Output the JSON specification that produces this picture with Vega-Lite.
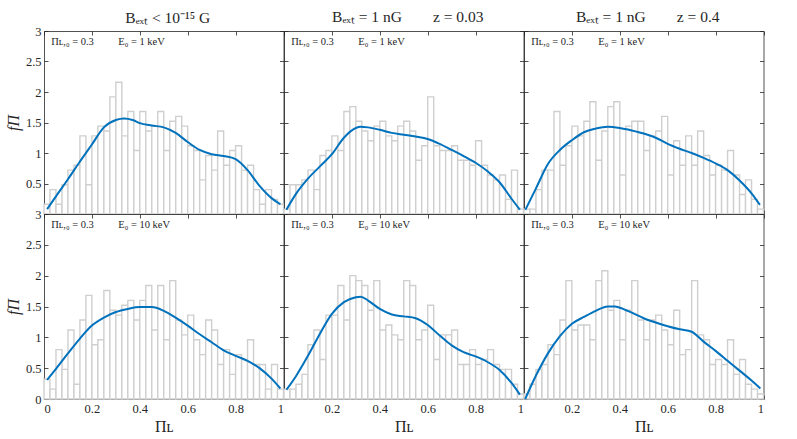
{
  "$schema": "https://vega.github.io/schema/vega-lite/v6.json",
  "background": "white",
  "padding": {"left": 5, "top": 10, "right": 5, "bottom": 5},
  "config": {
    "view": {"stroke": null},
    "axis": {
      "grid": false,
      "domainColor": "#262626",
      "domainWidth": 0.8,
      "tickColor": "#262626",
      "tickWidth": 0.8,
      "tickSize": -4,
      "labelColor": "#262626",
      "labelFont": "Liberation Serif",
      "labelFontSize": 12.5,
      "labelPadding": 7,
      "titleFont": "Liberation Serif",
      "titleFontSize": 16,
      "titleFontWeight": "normal",
      "titleColor": "#262626"
    },
    "title": {"font": "Liberation Serif", "fontSize": 15.5, "fontWeight": "normal", "color": "#262626", "offset": 5, "frame": "group", "dx": 4}
  },
  "datasets": {
    "bars": [
      {"p":"a","x0":0,"x1":0.025,"f":0.16},{"p":"a","x0":0.025,"x1":0.05,"f":0.4},{"p":"a","x0":0.05,"x1":0.075,"f":0.16},{"p":"a","x0":0.075,"x1":0.1,"f":0.48},{"p":"a","x0":0.1,"x1":0.125,"f":0.72},{"p":"a","x0":0.125,"x1":0.15,"f":0.8},{"p":"a","x0":0.15,"x1":0.175,"f":1.28},{"p":"a","x0":0.175,"x1":0.2,"f":0.48},{"p":"a","x0":0.2,"x1":0.225,"f":1.28},{"p":"a","x0":0.225,"x1":0.25,"f":1.44},
      {"p":"a","x0":0.25,"x1":0.275,"f":1.36},{"p":"a","x0":0.275,"x1":0.3,"f":1.92},{"p":"a","x0":0.3,"x1":0.325,"f":2.16},{"p":"a","x0":0.325,"x1":0.35,"f":1.28},{"p":"a","x0":0.35,"x1":0.375,"f":1.68},{"p":"a","x0":0.375,"x1":0.4,"f":1.04},{"p":"a","x0":0.4,"x1":0.425,"f":1.68},{"p":"a","x0":0.425,"x1":0.45,"f":1.36},{"p":"a","x0":0.45,"x1":0.475,"f":1.44},{"p":"a","x0":0.475,"x1":0.5,"f":1.68},
      {"p":"a","x0":0.5,"x1":0.525,"f":1.04},{"p":"a","x0":0.525,"x1":0.55,"f":1.52},{"p":"a","x0":0.55,"x1":0.575,"f":1.6},{"p":"a","x0":0.575,"x1":0.6,"f":1.44},{"p":"a","x0":0.6,"x1":0.625,"f":1.12},{"p":"a","x0":0.625,"x1":0.65,"f":1.04},{"p":"a","x0":0.65,"x1":0.675,"f":0.56},{"p":"a","x0":0.675,"x1":0.7,"f":0.96},{"p":"a","x0":0.7,"x1":0.725,"f":0.72},{"p":"a","x0":0.725,"x1":0.75,"f":1.36},
      {"p":"a","x0":0.75,"x1":0.775,"f":0.8},{"p":"a","x0":0.775,"x1":0.8,"f":1.04},{"p":"a","x0":0.8,"x1":0.825,"f":1.12},{"p":"a","x0":0.825,"x1":0.85,"f":0.72},{"p":"a","x0":0.85,"x1":0.875,"f":0.8},{"p":"a","x0":0.875,"x1":0.9,"f":0.4},{"p":"a","x0":0.9,"x1":0.925,"f":0.16},{"p":"a","x0":0.925,"x1":0.95,"f":0.4},{"p":"a","x0":0.95,"x1":0.975,"f":0.24},{"p":"a","x0":0.975,"x1":1,"f":0.16},

      {"p":"b","x0":0,"x1":0.025,"f":0.08},{"p":"b","x0":0.025,"x1":0.05,"f":0.48},{"p":"b","x0":0.05,"x1":0.075,"f":0.48},{"p":"b","x0":0.075,"x1":0.1,"f":0.56},{"p":"b","x0":0.1,"x1":0.125,"f":0.72},{"p":"b","x0":0.125,"x1":0.15,"f":0.4},{"p":"b","x0":0.15,"x1":0.175,"f":0.96},{"p":"b","x0":0.175,"x1":0.2,"f":1.04},{"p":"b","x0":0.2,"x1":0.225,"f":1.28},{"p":"b","x0":0.225,"x1":0.25,"f":1.04},
      {"p":"b","x0":0.25,"x1":0.275,"f":1.68},{"p":"b","x0":0.275,"x1":0.3,"f":1.76},{"p":"b","x0":0.3,"x1":0.325,"f":1.52},{"p":"b","x0":0.325,"x1":0.35,"f":1.36},{"p":"b","x0":0.35,"x1":0.375,"f":1.2},{"p":"b","x0":0.375,"x1":0.4,"f":1.44},{"p":"b","x0":0.4,"x1":0.425,"f":1.52},{"p":"b","x0":0.425,"x1":0.45,"f":1.28},{"p":"b","x0":0.45,"x1":0.475,"f":1.2},{"p":"b","x0":0.475,"x1":0.5,"f":1.44},
      {"p":"b","x0":0.5,"x1":0.525,"f":1.52},{"p":"b","x0":0.525,"x1":0.55,"f":1.36},{"p":"b","x0":0.55,"x1":0.575,"f":0.88},{"p":"b","x0":0.575,"x1":0.6,"f":1.12},{"p":"b","x0":0.6,"x1":0.625,"f":1.92},{"p":"b","x0":0.625,"x1":0.65,"f":1.12},{"p":"b","x0":0.65,"x1":0.675,"f":1.04},{"p":"b","x0":0.675,"x1":0.7,"f":1.04},{"p":"b","x0":0.7,"x1":0.725,"f":1.12},{"p":"b","x0":0.725,"x1":0.75,"f":0.88},
      {"p":"b","x0":0.75,"x1":0.775,"f":0.88},{"p":"b","x0":0.775,"x1":0.8,"f":0.8},{"p":"b","x0":0.8,"x1":0.825,"f":1.2},{"p":"b","x0":0.825,"x1":0.85,"f":0.8},{"p":"b","x0":0.85,"x1":0.875,"f":0.64},{"p":"b","x0":0.875,"x1":0.9,"f":0.56},{"p":"b","x0":0.9,"x1":0.925,"f":0.64},{"p":"b","x0":0.925,"x1":0.95,"f":0.24},{"p":"b","x0":0.95,"x1":0.975,"f":0.72},{"p":"b","x0":0.975,"x1":1,"f":0.08},

      {"p":"c","x0":0,"x1":0.025,"f":0.08},{"p":"c","x0":0.025,"x1":0.05,"f":0.08},{"p":"c","x0":0.05,"x1":0.075,"f":0.4},{"p":"c","x0":0.075,"x1":0.1,"f":0.72},{"p":"c","x0":0.1,"x1":0.125,"f":0.72},{"p":"c","x0":0.125,"x1":0.15,"f":1.68},{"p":"c","x0":0.15,"x1":0.175,"f":0.8},{"p":"c","x0":0.175,"x1":0.2,"f":1.12},{"p":"c","x0":0.2,"x1":0.225,"f":1.44},{"p":"c","x0":0.225,"x1":0.25,"f":1.28},
      {"p":"c","x0":0.25,"x1":0.275,"f":1.52},{"p":"c","x0":0.275,"x1":0.3,"f":1.84},{"p":"c","x0":0.3,"x1":0.325,"f":0.88},{"p":"c","x0":0.325,"x1":0.35,"f":1.36},{"p":"c","x0":0.35,"x1":0.375,"f":1.76},{"p":"c","x0":0.375,"x1":0.4,"f":1.84},{"p":"c","x0":0.4,"x1":0.425,"f":0.64},{"p":"c","x0":0.425,"x1":0.45,"f":1.44},{"p":"c","x0":0.45,"x1":0.475,"f":1.52},{"p":"c","x0":0.475,"x1":0.5,"f":1.52},
      {"p":"c","x0":0.5,"x1":0.525,"f":1.04},{"p":"c","x0":0.525,"x1":0.55,"f":1.28},{"p":"c","x0":0.55,"x1":0.575,"f":1.36},{"p":"c","x0":0.575,"x1":0.6,"f":1.6},{"p":"c","x0":0.6,"x1":0.625,"f":0.64},{"p":"c","x0":0.625,"x1":0.65,"f":1.2},{"p":"c","x0":0.65,"x1":0.675,"f":0.8},{"p":"c","x0":0.675,"x1":0.7,"f":1.28},{"p":"c","x0":0.7,"x1":0.725,"f":0.8},{"p":"c","x0":0.725,"x1":0.75,"f":1.36},
      {"p":"c","x0":0.75,"x1":0.775,"f":0.96},{"p":"c","x0":0.775,"x1":0.8,"f":0.64},{"p":"c","x0":0.8,"x1":0.825,"f":0.8},{"p":"c","x0":0.825,"x1":0.85,"f":0.72},{"p":"c","x0":0.85,"x1":0.875,"f":1.04},{"p":"c","x0":0.875,"x1":0.9,"f":0.64},{"p":"c","x0":0.9,"x1":0.925,"f":0.32},{"p":"c","x0":0.925,"x1":0.95,"f":0.56},{"p":"c","x0":0.95,"x1":0.975,"f":0.24},{"p":"c","x0":0.975,"x1":1,"f":0.08},

      {"p":"d","x0":0,"x1":0.025,"f":0.32},{"p":"d","x0":0.025,"x1":0.05,"f":0.16},{"p":"d","x0":0.05,"x1":0.075,"f":0.8},{"p":"d","x0":0.075,"x1":0.1,"f":0.48},{"p":"d","x0":0.1,"x1":0.125,"f":1.12},{"p":"d","x0":0.125,"x1":0.15,"f":0.24},{"p":"d","x0":0.15,"x1":0.175,"f":1.28},{"p":"d","x0":0.175,"x1":0.2,"f":1.68},{"p":"d","x0":0.2,"x1":0.225,"f":0.88},{"p":"d","x0":0.225,"x1":0.25,"f":0.96},
      {"p":"d","x0":0.25,"x1":0.275,"f":1.76},{"p":"d","x0":0.275,"x1":0.3,"f":1.44},{"p":"d","x0":0.3,"x1":0.325,"f":1.36},{"p":"d","x0":0.325,"x1":0.35,"f":1.52},{"p":"d","x0":0.35,"x1":0.375,"f":1.6},{"p":"d","x0":0.375,"x1":0.4,"f":1.28},{"p":"d","x0":0.4,"x1":0.425,"f":1.6},{"p":"d","x0":0.425,"x1":0.45,"f":1.84},{"p":"d","x0":0.45,"x1":0.475,"f":1.12},{"p":"d","x0":0.475,"x1":0.5,"f":1.84},
      {"p":"d","x0":0.5,"x1":0.525,"f":0.96},{"p":"d","x0":0.525,"x1":0.55,"f":1.92},{"p":"d","x0":0.55,"x1":0.575,"f":1.28},{"p":"d","x0":0.575,"x1":0.6,"f":1.04},{"p":"d","x0":0.6,"x1":0.625,"f":1.36},{"p":"d","x0":0.625,"x1":0.65,"f":0.96},{"p":"d","x0":0.65,"x1":0.675,"f":0.72},{"p":"d","x0":0.675,"x1":0.7,"f":1.28},{"p":"d","x0":0.7,"x1":0.725,"f":1.12},{"p":"d","x0":0.725,"x1":0.75,"f":0.56},
      {"p":"d","x0":0.75,"x1":0.775,"f":0.8},{"p":"d","x0":0.775,"x1":0.8,"f":0.4},{"p":"d","x0":0.8,"x1":0.825,"f":0.72},{"p":"d","x0":0.825,"x1":0.85,"f":0.64},{"p":"d","x0":0.85,"x1":0.875,"f":0.96},{"p":"d","x0":0.875,"x1":0.9,"f":0.56},{"p":"d","x0":0.9,"x1":0.925,"f":0.56},{"p":"d","x0":0.925,"x1":0.95,"f":0.16},{"p":"d","x0":0.95,"x1":0.975,"f":0.56},{"p":"d","x0":0.975,"x1":1,"f":0.16},

      {"p":"e","x0":0,"x1":0.025,"f":0.16},{"p":"e","x0":0.025,"x1":0.05,"f":0.16},{"p":"e","x0":0.05,"x1":0.075,"f":0.24},{"p":"e","x0":0.075,"x1":0.1,"f":0.4},{"p":"e","x0":0.1,"x1":0.125,"f":0.88},{"p":"e","x0":0.125,"x1":0.15,"f":1.12},{"p":"e","x0":0.15,"x1":0.175,"f":0.64},{"p":"e","x0":0.175,"x1":0.2,"f":1.36},{"p":"e","x0":0.2,"x1":0.225,"f":1.36},{"p":"e","x0":0.225,"x1":0.25,"f":1.84},
      {"p":"e","x0":0.25,"x1":0.275,"f":1.28},{"p":"e","x0":0.275,"x1":0.3,"f":2.0},{"p":"e","x0":0.3,"x1":0.325,"f":1.92},{"p":"e","x0":0.325,"x1":0.35,"f":1.84},{"p":"e","x0":0.35,"x1":0.375,"f":1.44},{"p":"e","x0":0.375,"x1":0.4,"f":1.92},{"p":"e","x0":0.4,"x1":0.425,"f":1.12},{"p":"e","x0":0.425,"x1":0.45,"f":1.2},{"p":"e","x0":0.45,"x1":0.475,"f":1.04},{"p":"e","x0":0.475,"x1":0.5,"f":0.96},
      {"p":"e","x0":0.5,"x1":0.525,"f":1.92},{"p":"e","x0":0.525,"x1":0.55,"f":1.84},{"p":"e","x0":0.55,"x1":0.575,"f":0.96},{"p":"e","x0":0.575,"x1":0.6,"f":1.12},{"p":"e","x0":0.6,"x1":0.625,"f":1.52},{"p":"e","x0":0.625,"x1":0.65,"f":0.64},{"p":"e","x0":0.65,"x1":0.675,"f":1.04},{"p":"e","x0":0.675,"x1":0.7,"f":1.04},{"p":"e","x0":0.7,"x1":0.725,"f":1.12},{"p":"e","x0":0.725,"x1":0.75,"f":0.56},
      {"p":"e","x0":0.75,"x1":0.775,"f":0.56},{"p":"e","x0":0.775,"x1":0.8,"f":0.8},{"p":"e","x0":0.8,"x1":0.825,"f":0.56},{"p":"e","x0":0.825,"x1":0.85,"f":0.64},{"p":"e","x0":0.85,"x1":0.875,"f":0.8},{"p":"e","x0":0.875,"x1":0.9,"f":0.56},{"p":"e","x0":0.9,"x1":0.925,"f":0.48},{"p":"e","x0":0.925,"x1":0.95,"f":0.48},{"p":"e","x0":0.95,"x1":0.975,"f":0.24},{"p":"e","x0":0.975,"x1":1,"f":0.08},

      {"p":"f","x0":0,"x1":0.025,"f":0.08},{"p":"f","x0":0.025,"x1":0.05,"f":0.24},{"p":"f","x0":0.05,"x1":0.075,"f":0.48},{"p":"f","x0":0.075,"x1":0.1,"f":0.56},{"p":"f","x0":0.1,"x1":0.125,"f":0.88},{"p":"f","x0":0.125,"x1":0.15,"f":0.72},{"p":"f","x0":0.15,"x1":0.175,"f":1.28},{"p":"f","x0":0.175,"x1":0.2,"f":1.92},{"p":"f","x0":0.2,"x1":0.225,"f":1.12},{"p":"f","x0":0.225,"x1":0.25,"f":1.2},
      {"p":"f","x0":0.25,"x1":0.275,"f":1.2},{"p":"f","x0":0.275,"x1":0.3,"f":0.96},{"p":"f","x0":0.3,"x1":0.325,"f":1.92},{"p":"f","x0":0.325,"x1":0.35,"f":2.08},{"p":"f","x0":0.35,"x1":0.375,"f":1.44},{"p":"f","x0":0.375,"x1":0.4,"f":1.6},{"p":"f","x0":0.4,"x1":0.425,"f":0.96},{"p":"f","x0":0.425,"x1":0.45,"f":1.44},{"p":"f","x0":0.45,"x1":0.475,"f":1.92},{"p":"f","x0":0.475,"x1":0.5,"f":1.28},
      {"p":"f","x0":0.5,"x1":0.525,"f":0.96},{"p":"f","x0":0.525,"x1":0.55,"f":1.28},{"p":"f","x0":0.55,"x1":0.575,"f":1.36},{"p":"f","x0":0.575,"x1":0.6,"f":1.12},{"p":"f","x0":0.6,"x1":0.625,"f":0.88},{"p":"f","x0":0.625,"x1":0.65,"f":1.44},{"p":"f","x0":0.65,"x1":0.675,"f":0.72},{"p":"f","x0":0.675,"x1":0.7,"f":0.8},{"p":"f","x0":0.7,"x1":0.725,"f":1.92},{"p":"f","x0":0.725,"x1":0.75,"f":1.04},
      {"p":"f","x0":0.75,"x1":0.775,"f":0.96},{"p":"f","x0":0.775,"x1":0.8,"f":0.56},{"p":"f","x0":0.8,"x1":0.825,"f":0.64},{"p":"f","x0":0.825,"x1":0.85,"f":0.56},{"p":"f","x0":0.85,"x1":0.875,"f":0.96},{"p":"f","x0":0.875,"x1":0.9,"f":0.4},{"p":"f","x0":0.9,"x1":0.925,"f":0.64},{"p":"f","x0":0.925,"x1":0.95,"f":0.24},{"p":"f","x0":0.95,"x1":0.975,"f":0.16},{"p":"f","x0":0.975,"x1":1,"f":0.08}
    ],
    "curves": [
      {"p":"a","x":0.013,"f":0.08},{"p":"a","x":0.05,"f":0.29},{"p":"a","x":0.1,"f":0.57},{"p":"a","x":0.15,"f":0.86},{"p":"a","x":0.2,"f":1.14},{"p":"a","x":0.25,"f":1.42},{"p":"a","x":0.3,"f":1.54},{"p":"a","x":0.335,"f":1.565},{"p":"a","x":0.37,"f":1.54},{"p":"a","x":0.4,"f":1.49},{"p":"a","x":0.45,"f":1.45},{"p":"a","x":0.5,"f":1.42},{"p":"a","x":0.55,"f":1.33},{"p":"a","x":0.6,"f":1.18},{"p":"a","x":0.65,"f":1.05},{"p":"a","x":0.7,"f":0.98},{"p":"a","x":0.75,"f":0.95},{"p":"a","x":0.8,"f":0.9},{"p":"a","x":0.85,"f":0.72},{"p":"a","x":0.9,"f":0.46},{"p":"a","x":0.95,"f":0.26},{"p":"a","x":0.987,"f":0.16},
      {"p":"b","x":0.01,"f":0.07},{"p":"b","x":0.05,"f":0.33},{"p":"b","x":0.1,"f":0.58},{"p":"b","x":0.15,"f":0.78},{"p":"b","x":0.2,"f":0.98},{"p":"b","x":0.25,"f":1.25},{"p":"b","x":0.3,"f":1.41},{"p":"b","x":0.32,"f":1.43},{"p":"b","x":0.35,"f":1.42},{"p":"b","x":0.4,"f":1.38},{"p":"b","x":0.45,"f":1.33},{"p":"b","x":0.5,"f":1.3},{"p":"b","x":0.55,"f":1.27},{"p":"b","x":0.6,"f":1.23},{"p":"b","x":0.65,"f":1.15},{"p":"b","x":0.7,"f":1.05},{"p":"b","x":0.75,"f":0.95},{"p":"b","x":0.8,"f":0.84},{"p":"b","x":0.85,"f":0.7},{"p":"b","x":0.9,"f":0.52},{"p":"b","x":0.95,"f":0.25},{"p":"b","x":0.985,"f":0.07},
      {"p":"c","x":0.006,"f":0.07},{"p":"c","x":0.05,"f":0.42},{"p":"c","x":0.1,"f":0.82},{"p":"c","x":0.15,"f":1.05},{"p":"c","x":0.2,"f":1.21},{"p":"c","x":0.25,"f":1.34},{"p":"c","x":0.3,"f":1.4},{"p":"c","x":0.35,"f":1.43},{"p":"c","x":0.4,"f":1.41},{"p":"c","x":0.45,"f":1.37},{"p":"c","x":0.5,"f":1.32},{"p":"c","x":0.55,"f":1.25},{"p":"c","x":0.6,"f":1.15},{"p":"c","x":0.65,"f":1.07},{"p":"c","x":0.7,"f":1.0},{"p":"c","x":0.75,"f":0.92},{"p":"c","x":0.8,"f":0.83},{"p":"c","x":0.85,"f":0.72},{"p":"c","x":0.9,"f":0.55},{"p":"c","x":0.95,"f":0.34},{"p":"c","x":0.985,"f":0.15},
      {"p":"d","x":0.013,"f":0.31},{"p":"d","x":0.05,"f":0.49},{"p":"d","x":0.1,"f":0.74},{"p":"d","x":0.15,"f":0.98},{"p":"d","x":0.2,"f":1.19},{"p":"d","x":0.25,"f":1.32},{"p":"d","x":0.3,"f":1.41},{"p":"d","x":0.35,"f":1.46},{"p":"d","x":0.4,"f":1.49},{"p":"d","x":0.45,"f":1.49},{"p":"d","x":0.5,"f":1.43},{"p":"d","x":0.55,"f":1.32},{"p":"d","x":0.6,"f":1.19},{"p":"d","x":0.65,"f":1.05},{"p":"d","x":0.7,"f":0.92},{"p":"d","x":0.75,"f":0.79},{"p":"d","x":0.8,"f":0.7},{"p":"d","x":0.85,"f":0.62},{"p":"d","x":0.9,"f":0.5},{"p":"d","x":0.95,"f":0.33},{"p":"d","x":0.987,"f":0.17},
      {"p":"e","x":0.01,"f":0.15},{"p":"e","x":0.05,"f":0.37},{"p":"e","x":0.1,"f":0.7},{"p":"e","x":0.15,"f":1.06},{"p":"e","x":0.2,"f":1.38},{"p":"e","x":0.25,"f":1.57},{"p":"e","x":0.3,"f":1.65},{"p":"e","x":0.32,"f":1.66},{"p":"e","x":0.35,"f":1.6},{"p":"e","x":0.4,"f":1.46},{"p":"e","x":0.45,"f":1.37},{"p":"e","x":0.5,"f":1.34},{"p":"e","x":0.55,"f":1.31},{"p":"e","x":0.6,"f":1.2},{"p":"e","x":0.65,"f":1.03},{"p":"e","x":0.7,"f":0.87},{"p":"e","x":0.75,"f":0.76},{"p":"e","x":0.8,"f":0.69},{"p":"e","x":0.85,"f":0.6},{"p":"e","x":0.9,"f":0.47},{"p":"e","x":0.95,"f":0.26},{"p":"e","x":0.985,"f":0.07},
      {"p":"f","x":0.005,"f":0.0},{"p":"f","x":0.05,"f":0.38},{"p":"f","x":0.1,"f":0.74},{"p":"f","x":0.15,"f":1.02},{"p":"f","x":0.2,"f":1.22},{"p":"f","x":0.25,"f":1.33},{"p":"f","x":0.3,"f":1.43},{"p":"f","x":0.35,"f":1.5},{"p":"f","x":0.38,"f":1.5},{"p":"f","x":0.4,"f":1.48},{"p":"f","x":0.45,"f":1.4},{"p":"f","x":0.5,"f":1.31},{"p":"f","x":0.55,"f":1.24},{"p":"f","x":0.6,"f":1.18},{"p":"f","x":0.65,"f":1.13},{"p":"f","x":0.7,"f":1.09},{"p":"f","x":0.75,"f":0.93},{"p":"f","x":0.8,"f":0.78},{"p":"f","x":0.85,"f":0.62},{"p":"f","x":0.9,"f":0.46},{"p":"f","x":0.95,"f":0.3},{"p":"f","x":0.987,"f":0.17}
    ],
    "notes": [
      {"p":"a","x":0.03,"y":2.82,"t":"Πʟ,₀ = 0.3"},{"p":"a","x":0.31,"y":2.82,"t":"E₀ = 1 keV"},
      {"p":"b","x":0.03,"y":2.82,"t":"Πʟ,₀ = 0.3"},{"p":"b","x":0.31,"y":2.82,"t":"E₀ = 1 keV"},
      {"p":"c","x":0.03,"y":2.82,"t":"Πʟ,₀ = 0.3"},{"p":"c","x":0.31,"y":2.82,"t":"E₀ = 1 keV"},
      {"p":"d","x":0.03,"y":2.82,"t":"Πʟ,₀ = 0.3"},{"p":"d","x":0.31,"y":2.82,"t":"E₀ = 10 keV"},
      {"p":"e","x":0.03,"y":2.82,"t":"Πʟ,₀ = 0.3"},{"p":"e","x":0.31,"y":2.82,"t":"E₀ = 10 keV"},
      {"p":"f","x":0.03,"y":2.82,"t":"Πʟ,₀ = 0.3"},{"p":"f","x":0.31,"y":2.82,"t":"E₀ = 10 keV"}
    ]
  },
  "columns": 3,
  "spacing": 0,
  "bounds": "flush",
  "concat": [
    {
      "width": 239.5, "height": 183,
      "title": {"text": "Bₑₓₜ < 10⁻¹⁵ G", "dy": 6},
      "layer": [
        {"data": {"name": "bars"}, "transform": [{"filter": "datum.p == 'a'"}],
         "mark": {"type": "bar", "fill": "white", "stroke": "#cfcfcf", "strokeWidth": 1.4},
         "encoding": {
           "x": {"field": "x0", "type": "quantitative", "scale": {"domain": [0, 1], "nice": false}, "axis": {"values": [0, 0.2, 0.4, 0.6, 0.8, 1], "labels": false, "title": null}},
           "x2": {"field": "x1"},
           "y": {"field": "f", "type": "quantitative", "scale": {"domain": [0, 3], "nice": false}, "axis": {"values": [0, 0.5, 1, 1.5, 2, 2.5, 3], "format": "~g", "labelExpr": "datum.value == 0 ? '' : datum.label", "title": "fΠ", "titleFontStyle": "italic"}},
           "y2": {"datum": 0}
         }},
        {"data": {"name": "curves"}, "transform": [{"filter": "datum.p == 'a'"}],
         "mark": {"type": "line", "color": "#0072BD", "strokeWidth": 2, "interpolate": "monotone"},
         "encoding": {
           "x": {"field": "x", "type": "quantitative", "axis": {"orient": "top", "values": [0, 0.2, 0.4, 0.6, 0.8, 1], "labels": false, "title": null}},
           "y": {"field": "f", "type": "quantitative", "axis": {"orient": "right", "values": [0, 0.5, 1, 1.5, 2, 2.5, 3], "labels": false, "title": null}}
         }},
        {"data": {"name": "notes"}, "transform": [{"filter": "datum.p == 'a'"}],
         "mark": {"type": "text", "align": "left", "baseline": "middle", "font": "Liberation Serif", "fontSize": 10.5, "color": "#262626"},
         "encoding": {
           "x": {"field": "x", "type": "quantitative", "axis": null},
           "y": {"field": "y", "type": "quantitative", "axis": null},
           "text": {"field": "t"}
         }}
      ],
      "resolve": {"axis": {"x": "independent", "y": "independent"}}
    },
    {
      "width": 239.5, "height": 183,
      "title": "Bₑₓₜ = 1 nG\u2003\u2003z = 0.03",
      "layer": [
        {"data": {"name": "bars"}, "transform": [{"filter": "datum.p == 'b'"}],
         "mark": {"type": "bar", "fill": "white", "stroke": "#cfcfcf", "strokeWidth": 1.4},
         "encoding": {
           "x": {"field": "x0", "type": "quantitative", "scale": {"domain": [0, 1], "nice": false}, "axis": {"values": [0, 0.2, 0.4, 0.6, 0.8, 1], "labels": false, "title": null}},
           "x2": {"field": "x1"},
           "y": {"field": "f", "type": "quantitative", "scale": {"domain": [0, 3], "nice": false}, "axis": {"values": [0, 0.5, 1, 1.5, 2, 2.5, 3], "labels": false, "title": null}},
           "y2": {"datum": 0}
         }},
        {"data": {"name": "curves"}, "transform": [{"filter": "datum.p == 'b'"}],
         "mark": {"type": "line", "color": "#0072BD", "strokeWidth": 2, "interpolate": "monotone"},
         "encoding": {
           "x": {"field": "x", "type": "quantitative", "axis": {"orient": "top", "values": [0, 0.2, 0.4, 0.6, 0.8, 1], "labels": false, "title": null}},
           "y": {"field": "f", "type": "quantitative", "axis": {"orient": "right", "values": [0, 0.5, 1, 1.5, 2, 2.5, 3], "labels": false, "title": null}}
         }},
        {"data": {"name": "notes"}, "transform": [{"filter": "datum.p == 'b'"}],
         "mark": {"type": "text", "align": "left", "baseline": "middle", "font": "Liberation Serif", "fontSize": 10.5, "color": "#262626"},
         "encoding": {
           "x": {"field": "x", "type": "quantitative", "axis": null},
           "y": {"field": "y", "type": "quantitative", "axis": null},
           "text": {"field": "t"}
         }}
      ],
      "resolve": {"axis": {"x": "independent", "y": "independent"}}
    },
    {
      "width": 239.5, "height": 183,
      "title": "Bₑₓₜ = 1 nG\u2003\u2003z = 0.4",
      "layer": [
        {"data": {"name": "bars"}, "transform": [{"filter": "datum.p == 'c'"}],
         "mark": {"type": "bar", "fill": "white", "stroke": "#cfcfcf", "strokeWidth": 1.4},
         "encoding": {
           "x": {"field": "x0", "type": "quantitative", "scale": {"domain": [0, 1], "nice": false}, "axis": {"values": [0, 0.2, 0.4, 0.6, 0.8, 1], "labels": false, "title": null}},
           "x2": {"field": "x1"},
           "y": {"field": "f", "type": "quantitative", "scale": {"domain": [0, 3], "nice": false}, "axis": {"values": [0, 0.5, 1, 1.5, 2, 2.5, 3], "labels": false, "title": null}},
           "y2": {"datum": 0}
         }},
        {"data": {"name": "curves"}, "transform": [{"filter": "datum.p == 'c'"}],
         "mark": {"type": "line", "color": "#0072BD", "strokeWidth": 2, "interpolate": "monotone"},
         "encoding": {
           "x": {"field": "x", "type": "quantitative", "axis": {"orient": "top", "values": [0, 0.2, 0.4, 0.6, 0.8, 1], "labels": false, "title": null}},
           "y": {"field": "f", "type": "quantitative", "axis": {"orient": "right", "values": [0, 0.5, 1, 1.5, 2, 2.5, 3], "labels": false, "title": null}}
         }},
        {"data": {"name": "notes"}, "transform": [{"filter": "datum.p == 'c'"}],
         "mark": {"type": "text", "align": "left", "baseline": "middle", "font": "Liberation Serif", "fontSize": 10.5, "color": "#262626"},
         "encoding": {
           "x": {"field": "x", "type": "quantitative", "axis": null},
           "y": {"field": "y", "type": "quantitative", "axis": null},
           "text": {"field": "t"}
         }}
      ],
      "resolve": {"axis": {"x": "independent", "y": "independent"}}
    },
    {
      "width": 239.5, "height": 185,
      "layer": [
        {"data": {"name": "bars"}, "transform": [{"filter": "datum.p == 'd'"}],
         "mark": {"type": "bar", "fill": "white", "stroke": "#cfcfcf", "strokeWidth": 1.4},
         "encoding": {
           "x": {"field": "x0", "type": "quantitative", "scale": {"domain": [0, 1], "nice": false}, "axis": {"values": [0, 0.2, 0.4, 0.6, 0.8, 1], "format": "~g", "title": "Πʟ"}},
           "x2": {"field": "x1"},
           "y": {"field": "f", "type": "quantitative", "scale": {"domain": [0, 3], "nice": false}, "axis": {"values": [0, 0.5, 1, 1.5, 2, 2.5, 3], "format": "~g", "title": "fΠ", "titleFontStyle": "italic"}},
           "y2": {"datum": 0}
         }},
        {"data": {"name": "curves"}, "transform": [{"filter": "datum.p == 'd'"}],
         "mark": {"type": "line", "color": "#0072BD", "strokeWidth": 2, "interpolate": "monotone"},
         "encoding": {
           "x": {"field": "x", "type": "quantitative", "axis": {"orient": "top", "values": [0, 0.2, 0.4, 0.6, 0.8, 1], "labels": false, "title": null}},
           "y": {"field": "f", "type": "quantitative", "axis": {"orient": "right", "values": [0, 0.5, 1, 1.5, 2, 2.5, 3], "labels": false, "title": null}}
         }},
        {"data": {"name": "notes"}, "transform": [{"filter": "datum.p == 'd'"}],
         "mark": {"type": "text", "align": "left", "baseline": "middle", "font": "Liberation Serif", "fontSize": 10.5, "color": "#262626"},
         "encoding": {
           "x": {"field": "x", "type": "quantitative", "axis": null},
           "y": {"field": "y", "type": "quantitative", "axis": null},
           "text": {"field": "t"}
         }}
      ],
      "resolve": {"axis": {"x": "independent", "y": "independent"}}
    },
    {
      "width": 239.5, "height": 185,
      "layer": [
        {"data": {"name": "bars"}, "transform": [{"filter": "datum.p == 'e'"}],
         "mark": {"type": "bar", "fill": "white", "stroke": "#cfcfcf", "strokeWidth": 1.4},
         "encoding": {
           "x": {"field": "x0", "type": "quantitative", "scale": {"domain": [0, 1], "nice": false}, "axis": {"values": [0, 0.2, 0.4, 0.6, 0.8, 1], "format": "~g", "labelExpr": "datum.value == 0 ? '' : datum.label", "title": "Πʟ"}},
           "x2": {"field": "x1"},
           "y": {"field": "f", "type": "quantitative", "scale": {"domain": [0, 3], "nice": false}, "axis": {"values": [0, 0.5, 1, 1.5, 2, 2.5, 3], "labels": false, "title": null}},
           "y2": {"datum": 0}
         }},
        {"data": {"name": "curves"}, "transform": [{"filter": "datum.p == 'e'"}],
         "mark": {"type": "line", "color": "#0072BD", "strokeWidth": 2, "interpolate": "monotone"},
         "encoding": {
           "x": {"field": "x", "type": "quantitative", "axis": {"orient": "top", "values": [0, 0.2, 0.4, 0.6, 0.8, 1], "labels": false, "title": null}},
           "y": {"field": "f", "type": "quantitative", "axis": {"orient": "right", "values": [0, 0.5, 1, 1.5, 2, 2.5, 3], "labels": false, "title": null}}
         }},
        {"data": {"name": "notes"}, "transform": [{"filter": "datum.p == 'e'"}],
         "mark": {"type": "text", "align": "left", "baseline": "middle", "font": "Liberation Serif", "fontSize": 10.5, "color": "#262626"},
         "encoding": {
           "x": {"field": "x", "type": "quantitative", "axis": null},
           "y": {"field": "y", "type": "quantitative", "axis": null},
           "text": {"field": "t"}
         }}
      ],
      "resolve": {"axis": {"x": "independent", "y": "independent"}}
    },
    {
      "width": 239.5, "height": 185,
      "layer": [
        {"data": {"name": "bars"}, "transform": [{"filter": "datum.p == 'f'"}],
         "mark": {"type": "bar", "fill": "white", "stroke": "#cfcfcf", "strokeWidth": 1.4},
         "encoding": {
           "x": {"field": "x0", "type": "quantitative", "scale": {"domain": [0, 1], "nice": false}, "axis": {"values": [0, 0.2, 0.4, 0.6, 0.8, 1], "format": "~g", "labelExpr": "datum.value == 0 ? '' : datum.label", "title": "Πʟ"}},
           "x2": {"field": "x1"},
           "y": {"field": "f", "type": "quantitative", "scale": {"domain": [0, 3], "nice": false}, "axis": {"values": [0, 0.5, 1, 1.5, 2, 2.5, 3], "labels": false, "title": null}},
           "y2": {"datum": 0}
         }},
        {"data": {"name": "curves"}, "transform": [{"filter": "datum.p == 'f'"}],
         "mark": {"type": "line", "color": "#0072BD", "strokeWidth": 2, "interpolate": "monotone"},
         "encoding": {
           "x": {"field": "x", "type": "quantitative", "axis": {"orient": "top", "values": [0, 0.2, 0.4, 0.6, 0.8, 1], "labels": false, "title": null}},
           "y": {"field": "f", "type": "quantitative", "axis": {"orient": "right", "values": [0, 0.5, 1, 1.5, 2, 2.5, 3], "labels": false, "title": null}}
         }},
        {"data": {"name": "notes"}, "transform": [{"filter": "datum.p == 'f'"}],
         "mark": {"type": "text", "align": "left", "baseline": "middle", "font": "Liberation Serif", "fontSize": 10.5, "color": "#262626"},
         "encoding": {
           "x": {"field": "x", "type": "quantitative", "axis": null},
           "y": {"field": "y", "type": "quantitative", "axis": null},
           "text": {"field": "t"}
         }}
      ],
      "resolve": {"axis": {"x": "independent", "y": "independent"}}
    }
  ]
}
